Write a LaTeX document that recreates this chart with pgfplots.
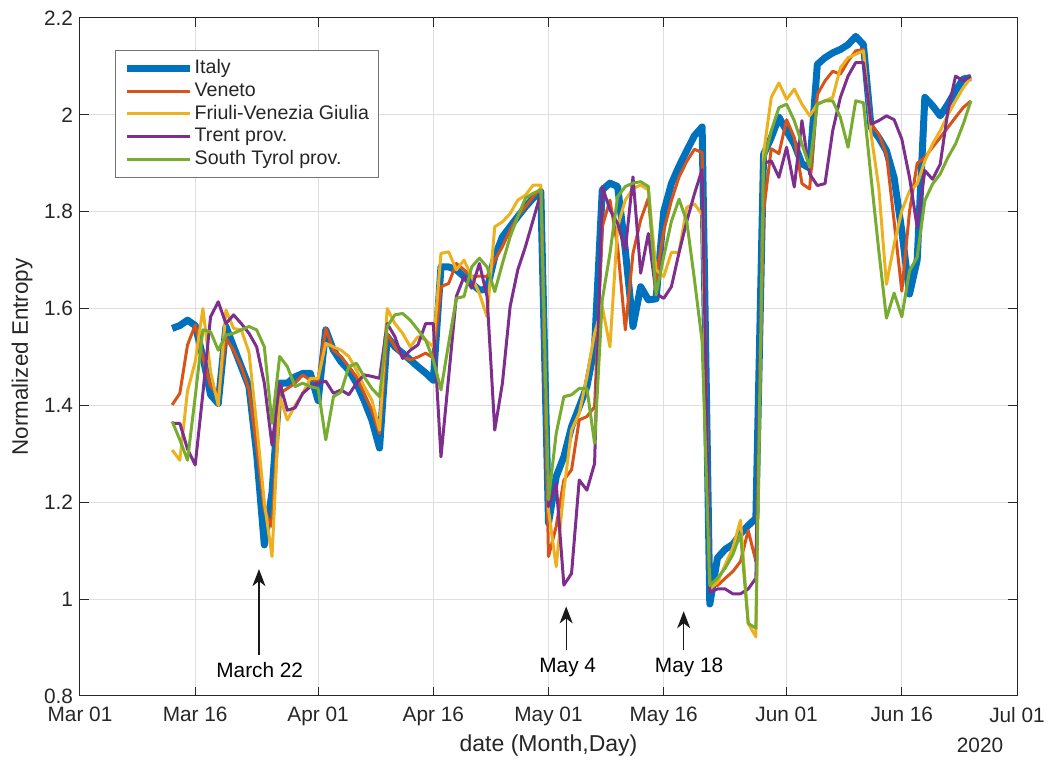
\documentclass[border=0pt]{standalone}
\usepackage{fontspec}
\setmainfont{Liberation Sans}
\usepackage{pgfplots}
\pgfplotsset{compat=1.18}
\usepackage{pgfplotstable}
\usetikzlibrary{arrows.meta}
\definecolor{cI}{rgb}{0,0.447,0.741}
\definecolor{cV}{rgb}{0.850,0.325,0.098}
\definecolor{cF}{rgb}{0.929,0.694,0.125}
\definecolor{cT}{rgb}{0.494,0.184,0.556}
\definecolor{cS}{rgb}{0.466,0.674,0.188}
\definecolor{axc}{rgb}{0.15,0.15,0.15}
\pgfplotstableread{
d I V F T S
12 1.559 1.401 1.308 1.363 1.367
13 1.565 1.425 1.287 1.363 1.329
14 1.576 1.525 1.430 1.310 1.287
15 1.565 1.566 1.490 1.277 1.418
16 1.500 1.500 1.600 1.425 1.556
17 1.422 1.440 1.470 1.583 1.552
18 1.404 1.420 1.400 1.614 1.514
19 1.563 1.539 1.597 1.569 1.545
20 1.521 1.514 1.559 1.587 1.549
21 1.480 1.480 1.556 1.569 1.556
22 1.439 1.432 1.510 1.549 1.563
23 1.300 1.315 1.360 1.521 1.556
24 1.112 1.184 1.200 1.446 1.521
25 1.220 1.150 1.088 1.318 1.363
26 1.446 1.425 1.418 1.446 1.501
27 1.446 1.435 1.370 1.390 1.480
28 1.459 1.446 1.400 1.395 1.439
29 1.466 1.463 1.425 1.425 1.446
30 1.466 1.452 1.456 1.439 1.439
31 1.410 1.452 1.456 1.446 1.435
32 1.556 1.559 1.528 1.450 1.329
33 1.514 1.514 1.521 1.425 1.418
34 1.490 1.501 1.514 1.432 1.428
35 1.473 1.480 1.501 1.422 1.480
36 1.446 1.459 1.473 1.446 1.487
37 1.410 1.425 1.439 1.463 1.459
38 1.370 1.390 1.411 1.460 1.435
39 1.312 1.342 1.349 1.456 1.418
40 1.542 1.548 1.600 1.569 1.563
41 1.521 1.521 1.569 1.542 1.587
42 1.508 1.501 1.549 1.497 1.590
43 1.494 1.494 1.521 1.514 1.576
44 1.480 1.500 1.542 1.525 1.556
45 1.467 1.508 1.535 1.569 1.535
46 1.452 1.498 1.521 1.569 1.494
47 1.686 1.645 1.714 1.294 1.432
48 1.686 1.652 1.717 1.459 1.528
49 1.680 1.693 1.680 1.625 1.621
50 1.666 1.680 1.700 1.666 1.625
51 1.652 1.666 1.666 1.642 1.686
52 1.638 1.667 1.631 1.693 1.704
53 1.640 1.666 1.583 1.625 1.686
54 1.707 1.700 1.769 1.349 1.635
55 1.748 1.728 1.779 1.446 1.693
56 1.769 1.762 1.796 1.604 1.748
57 1.790 1.790 1.824 1.680 1.790
58 1.810 1.810 1.834 1.728 1.828
59 1.828 1.831 1.855 1.783 1.838
60 1.841 1.848 1.855 1.838 1.845
61 1.157 1.088 1.184 1.191 1.205
62 1.253 1.150 1.067 1.239 1.342
63 1.294 1.246 1.225 1.029 1.418
64 1.356 1.267 1.349 1.053 1.422
65 1.397 1.370 1.384 1.246 1.435
66 1.439 1.377 1.459 1.225 1.435
67 1.521 1.397 1.549 1.280 1.322
68 1.845 1.769 1.604 1.852 1.618
69 1.859 1.824 1.521 1.804 1.714
70 1.852 1.728 1.769 1.776 1.831
71 1.721 1.556 1.824 1.721 1.852
72 1.563 1.714 1.848 1.872 1.859
73 1.645 1.783 1.855 1.673 1.862
74 1.618 1.828 1.845 1.755 1.852
75 1.620 1.660 1.680 1.631 1.628
76 1.800 1.760 1.666 1.621 1.707
77 1.858 1.823 1.716 1.645 1.780
78 1.894 1.872 1.716 1.716 1.826
79 1.926 1.904 1.809 1.780 1.780
80 1.957 1.929 1.816 1.837 1.660
81 1.975 1.922 1.794 1.887 1.532
82 0.990 1.035 1.021 1.014 1.028
83 1.085 1.028 1.035 1.021 1.043
84 1.103 1.043 1.071 1.021 1.064
85 1.113 1.057 1.106 1.011 1.092
86 1.135 1.078 1.163 1.011 1.135
87 1.152 1.142 0.950 1.021 0.950
88 1.167 1.078 0.922 1.043 0.940
89 1.918 1.800 1.920 1.900 1.900
90 1.953 1.930 2.036 1.905 1.967
91 1.995 1.920 2.066 1.871 2.015
92 1.967 1.990 2.032 1.933 2.022
93 1.940 1.953 2.053 1.851 1.988
94 1.899 1.858 2.022 1.988 1.940
95 1.890 1.847 1.998 1.878 1.892
96 2.104 2.042 2.022 1.854 2.022
97 2.118 2.070 2.029 1.858 2.029
98 2.128 2.090 2.036 1.967 2.029
99 2.135 2.084 2.097 2.036 1.995
100 2.145 2.111 2.118 2.080 1.933
101 2.162 2.132 2.125 2.108 2.029
102 2.145 2.135 2.132 2.108 2.025
103 1.974 1.981 1.960 1.981 1.870
104 1.953 1.960 1.850 1.988 1.720
105 1.926 1.919 1.650 1.998 1.580
106 1.870 1.780 1.733 1.990 1.632
107 1.760 1.636 1.802 1.950 1.583
108 1.630 1.800 1.843 1.871 1.678
109 1.700 1.900 1.857 1.768 1.706
110 2.036 1.912 1.905 1.885 1.823
111 2.019 1.933 1.940 1.867 1.857
112 1.998 1.953 1.967 1.898 1.878
113 2.022 1.974 2.000 2.008 1.912
114 2.050 1.995 2.029 2.080 1.940
115 2.074 2.015 2.056 2.070 1.981
116 2.077 2.029 2.077 2.080 2.029
}\data
\begin{document}
\begin{tikzpicture}
\begin{axis}[
  name=ax,
  width=468.5pt, height=339pt, scale only axis,
  xmin=0, xmax=122, ymin=0.8, ymax=2.2,
  xtick={0,15,31,46,61,76,92,107,122},
  xticklabels={Mar 01,Mar 16,Apr 01,Apr 16,May 01,May 16,Jun 01,Jun 16,Jul 01},
  ytick={0.8,1,1.2,1.4,1.6,1.8,2,2.2},
  yticklabels={0.8,1,1.2,1.4,1.6,1.8,2,2.2},
  grid=major,
  grid style={color=black!13, line width=0.5pt},
  axis line style={color=axc, line width=0.5pt},
  tick style={color=axc, line width=0.5pt},
  tick align=inside, major tick length=4.5pt,
  ticklabel style={font=\fontsize{10.4}{12}\selectfont, text=axc},
  /pgf/number format/assume math mode=true,
  xticklabel style={yshift=-2pt},
  legend style={at={(rel axis cs:0.0374,0.9528)}, anchor=north west,
    draw=black!55, line width=0.5pt, fill=white,
    font=\fontsize{9.8}{12}\selectfont, text=axc,
    inner xsep=4pt, inner ysep=3.5pt,
    nodes={inner sep=0.6pt, text height=7.6pt, text depth=2.5pt}},
  legend cell align=left,
  legend image code/.code={\draw[#1] (0pt,0pt) -- (31.5pt,0pt);},
  every axis plot/.append style={line join=round},
]
\addplot[color=cI, line width=3.5pt] table[x=d, y=I] {\data};
\addplot[color=cV, line width=1.5pt] table[x=d, y=V] {\data};
\addplot[color=cF, line width=1.5pt] table[x=d, y=F] {\data};
\addplot[color=cT, line width=1.5pt] table[x=d, y=T] {\data};
\addplot[color=cS, line width=1.5pt] table[x=d, y=S] {\data};
\legend{Italy, Veneto, Friuli-Venezia Giulia, Trent prov., South Tyrol prov.}
\draw[black!90, line width=0.6pt, -{Stealth[length=8.5pt, width=6.5pt, inset=2.5pt]}] (axis cs:23.3,0.885) -- (axis cs:23.3,1.062);
\draw[black!90, line width=0.6pt, -{Stealth[length=8.5pt, width=6.5pt, inset=2.5pt]}] (axis cs:63.3,0.895) -- (axis cs:63.3,0.985);
\draw[black!90, line width=0.6pt, -{Stealth[length=8.5pt, width=6.5pt, inset=2.5pt]}] (axis cs:78.6,0.895) -- (axis cs:78.6,0.975);
\node[font=\fontsize{10.4}{12}\selectfont, text=black] at (axis cs:23.4,0.854) {March 22};
\node[font=\fontsize{10.4}{12}\selectfont, text=black] at (axis cs:63.5,0.858) {May 4};
\node[font=\fontsize{10.4}{12}\selectfont, text=black] at (axis cs:79.3,0.860) {May 18};
\end{axis}
\node[font=\fontsize{11.5}{13}\selectfont, text=axc] at ([yshift=-25pt]ax.south) {date (Month,Day)};
\node[font=\fontsize{11.2}{13}\selectfont, text=axc, rotate=90] at ([xshift=-29pt]ax.west) {Normalized Entropy};
\node[font=\fontsize{10.4}{12}\selectfont, text=axc] at ([xshift=-18.5pt, yshift=-24.5pt]ax.south east) {2020};
\pgfresetboundingbox
\path[use as bounding box] ([shift={(-40pt,-33.5pt)}]ax.south west) rectangle ([shift={(17.5pt,9pt)}]ax.north east);
\end{tikzpicture}
\end{document}
